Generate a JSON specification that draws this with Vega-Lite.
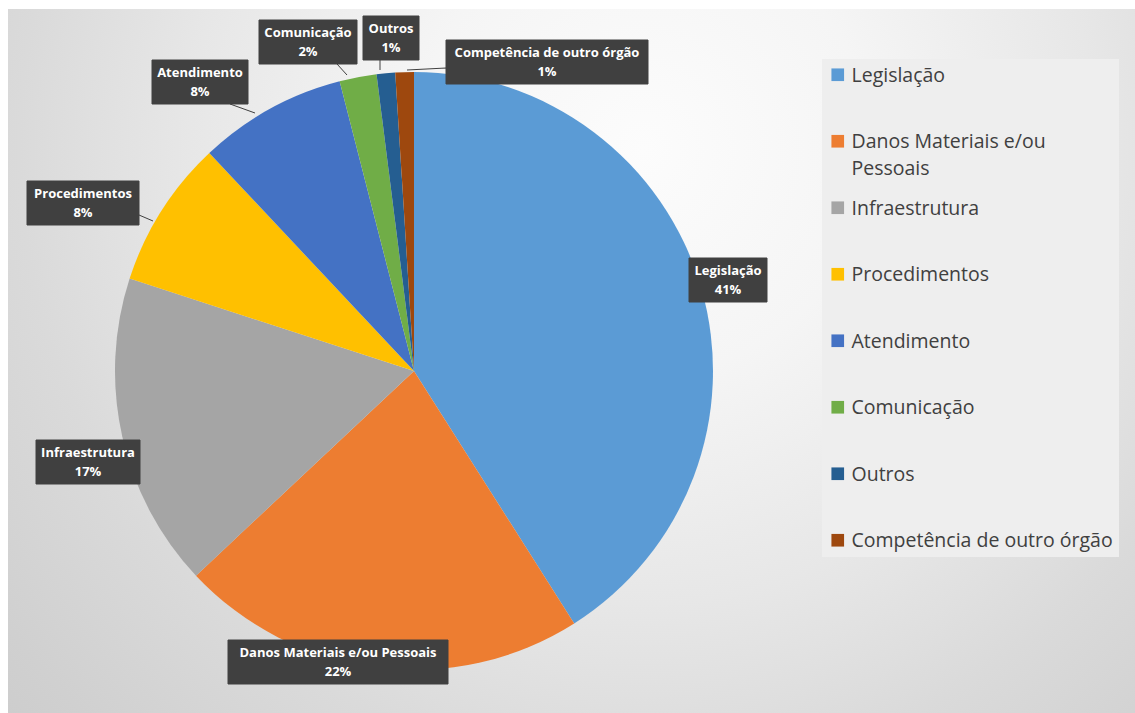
{
  "$schema": "https://vega.github.io/schema/vega-lite/v6.json",
  "width": 1135,
  "height": 712,
  "autosize": {"type": "none"},
  "padding": {"left": 8, "top": 9, "right": 0, "bottom": 0},
  "background": "#ffffff",
  "view": {
    "stroke": null,
    "fill": {
      "gradient": "radial",
      "x1": 0.56, "y1": 0.31, "r1": 0,
      "x2": 0.56, "y2": 0.31, "r2": 1,
      "stops": [
        {"offset": 0, "color": "#fcfcfc"},
        {"offset": 0.2, "color": "#f5f5f5"},
        {"offset": 0.4, "color": "#e7e7e7"},
        {"offset": 0.55, "color": "#dadada"},
        {"offset": 0.7, "color": "#d0d0d0"},
        {"offset": 0.9, "color": "#c5c5c5"},
        {"offset": 1, "color": "#c0c0c0"}
      ]
    }
  },
  "data": {
    "values": [
      {"cat": "Legislação", "share": 0.41, "idx": 1},
      {"cat": "Danos Materiais e/ou Pessoais", "share": 0.22, "idx": 2},
      {"cat": "Infraestrutura", "share": 0.17, "idx": 3},
      {"cat": "Procedimentos", "share": 0.08, "idx": 4},
      {"cat": "Atendimento", "share": 0.08, "idx": 5},
      {"cat": "Comunicação", "share": 0.02, "idx": 6},
      {"cat": "Outros", "share": 0.01, "idx": 7},
      {"cat": "Competência de outro órgão", "share": 0.01, "idx": 8}
    ]
  },
  "layer": [
    {
      "mark": {"type": "arc", "outerRadius": 299, "x": {"expr": "width * 0.3577"}, "y": {"expr": "height * 0.5084"}},
      "encoding": {
        "theta": {"field": "share", "type": "quantitative", "stack": true},
        "order": {"field": "idx", "type": "quantitative", "sort": "ascending"},
        "color": {
          "field": "cat",
          "type": "nominal",
          "scale": {
            "domain": ["Legislação", "Danos Materiais e/ou Pessoais", "Infraestrutura", "Procedimentos", "Atendimento", "Comunicação", "Outros", "Competência de outro órgão"],
            "range": ["#5B9BD5", "#ED7D31", "#A5A5A5", "#FFC000", "#4472C4", "#70AD47", "#255E91", "#9E480E"]
          },
          "legend": {
            "orient": "none",
            "legendX": 814,
            "legendY": 50,
            "title": null,
            "symbolType": "square",
            "symbolSize": 160,
            "symbolStrokeWidth": 0,
            "labelFont": "Open Sans",
            "labelFontSize": 19.5,
            "labelColor": "#404040",
            "labelLimit": 400,
            "labelOffset": 4,
            "padding": 6,
            "fillColor": "#eeeeee",
            "rowPadding": 18.5,
            "gridAlign": "all",
            "labelBaseline": "alphabetic",
            "labelExpr": "datum.label == 'Danos Materiais e/ou Pessoais' ? ['Danos Materiais e/ou', 'Pessoais'] : datum.label",
            "encode": {"labels": {"update": {"dy": {"value": 7}, "lineHeight": {"value": 27}}}}
          }
        }
      }
    },
    {
      "mark": {"type": "point", "filled": true, "size": 4, "fill": "#404040", "stroke": "#404040", "strokeWidth": 1, "opacity": 1},
      "encoding": {
        "x": {"field": "idx", "type": "quantitative", "axis": null, "scale": {"domain": [1, 2, 3, 4, 5, 6, 7, 8], "range": [720, 330, 80, 75, 192, 300, 383, 539], "nice": false, "zero": false}},
        "y": {"field": "idx", "type": "quantitative", "axis": null, "scale": {"domain": [1, 2, 3, 4, 5, 6, 7, 8], "range": [271, 653, 453, 194, 73, 33, 29, 53], "nice": false, "zero": false}},
        "shape": {
          "field": "idx",
          "type": "ordinal",
          "legend": null,
          "scale": {
            "domain": [1, 2, 3, 4, 5, 6, 7, 8],
            "range": [
              "M-39,-22H39V22H-39Z",
              "M-110,-22H110V22H-110Z",
              "M-52,-22H52V22H-52Z",
              "M-56,-22H56V22H-56Z M56,12L70,18",
              "M-48,-22H48V22H-48Z M30,22L55,31",
              "M-49,-22H49V22H-49Z M29,22L39,33",
              "M-28,-22H28V22H-28Z M-11,22L-11,32",
              "M-101,-22H101V22H-101Z M-101,6L-140,8"
            ]
          }
        }
      }
    },
    {
      "mark": {"type": "text", "font": "Open Sans", "fontWeight": "bold", "fontSize": 13, "fill": "#ffffff", "baseline": "middle", "dy": -9},
      "encoding": {
        "x": {"field": "idx", "type": "quantitative"},
        "y": {"field": "idx", "type": "quantitative"},
        "text": {"field": "cat", "type": "nominal"}
      }
    },
    {
      "mark": {"type": "text", "font": "Open Sans", "fontWeight": "bold", "fontSize": 13, "fill": "#ffffff", "baseline": "middle", "dy": 10},
      "encoding": {
        "x": {"field": "idx", "type": "quantitative"},
        "y": {"field": "idx", "type": "quantitative"},
        "text": {"field": "share", "type": "quantitative", "format": ".0%"}
      }
    }
  ]
}
